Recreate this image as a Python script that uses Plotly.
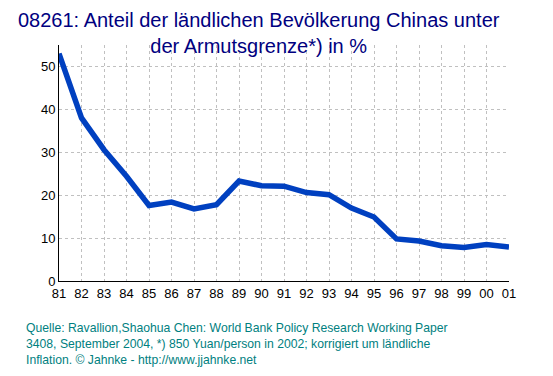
import plotly.graph_objects as go

years = ["81","82","83","84","85","86","87","88","89","90","91","92","93","94","95","96","97","98","99","00","01"]
anteil = [53.0, 38.0, 30.6, 24.4, 17.6, 18.4, 16.8, 17.8, 23.3, 22.2, 22.1, 20.6, 20.1, 17.0, 14.9, 9.8, 9.3, 8.2, 7.8, 8.5, 7.9]
y_ticks = [0, 10, 20, 30, 40, 50]

title_text = "08261: Anteil der ländlichen Bevölkerung Chinas unter<br>der Armutsgrenze*) in %"
source_text = ("Quelle: Ravallion,Shaohua Chen: World Bank Policy Research Working Paper<br>"
               "3408, September 2004, *) 850 Yuan/person in 2002; korrigiert um ländliche<br>"
               "Inflation. © Jahnke - http://www.jjahnke.net")

fig = go.Figure()
fig.add_trace(go.Scatter(x=list(range(len(years))), y=anteil, mode="lines",
                         line=dict(color="#0040C0", width=5.5), hoverinfo="skip"))

fig.update_layout(
    width=553, height=376,
    margin=dict(l=59, r=44, t=45, b=95),
    paper_bgcolor="white", plot_bgcolor="white",
    showlegend=False,
    font=dict(family="Liberation Sans, Arial", size=12, color="black"),
    xaxis=dict(range=[0, len(years)-1], tickvals=list(range(len(years))), ticktext=years,
               showgrid=True, gridcolor="#C0C0C0", griddash="3px,3px", gridwidth=1,
               showline=True, linecolor="black", linewidth=1, ticks="", zeroline=False,
               tickfont=dict(size=13)),
    yaxis=dict(range=[0, 55], tickvals=y_ticks,
               showgrid=True, gridcolor="#C0C0C0", griddash="3px,3px", gridwidth=1,
               showline=True, linecolor="black", linewidth=1, ticks="", zeroline=False,
               tickfont=dict(size=13)),
    annotations=[
        dict(text=title_text, xref="paper", yref="paper", x=0.444, y=1.0, yshift=-14,
             xanchor="center", yanchor="bottom", showarrow=False, align="center",
             font=dict(family="Liberation Sans, Arial", size=20, color="#000080")),
        dict(text=source_text, xref="paper", yref="paper", x=-35/450, y=0, yshift=-38,
             xanchor="left", yanchor="top", showarrow=False, align="left",
             font=dict(family="Liberation Sans, Arial", size=12.2, color="#008080")),
    ],
)

fig.write_html("out.html", config={"displayModeBar": False},
               post_script="document.body.style.margin='0';")
